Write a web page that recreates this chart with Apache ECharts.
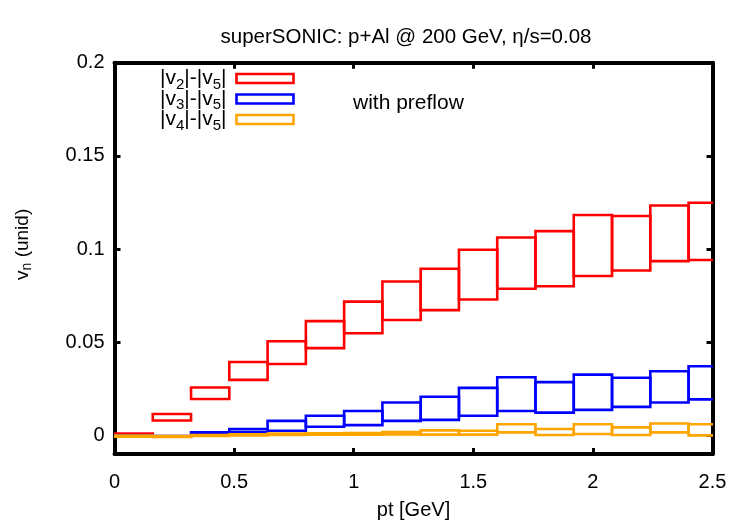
<!DOCTYPE html>
<html>
<head>
<meta charset="utf-8">
<script src="https://cdn.jsdelivr.net/npm/echarts@6/dist/echarts.min.js"></script>
<style>html,body{margin:0;padding:0;background:#fff}#c{width:750px;height:525px}</style>
</head>
<body>
<div id="c"></div>
<script>
// pt bins (GeV): lower and upper edges
var binLo = [0.00,0.16,0.32,0.48,0.64,0.80,0.96,1.12,1.28,1.44,1.60,1.76,1.92,2.08,2.24,2.40];
var binHi = [0.16,0.32,0.48,0.64,0.80,0.96,1.12,1.28,1.44,1.60,1.76,1.92,2.08,2.24,2.40,2.56];
// |v2|-|v5| band
var v2Low  = [0.0004,0.0080,0.0195,0.0298,0.0383,0.0468,0.0548,0.0619,0.0672,0.0729,0.0787,0.0800,0.0855,0.0885,0.0935,0.0941];
var v2High = [0.0010,0.0115,0.0257,0.0394,0.0505,0.0613,0.0718,0.0826,0.0894,0.0996,0.1062,0.1096,0.1183,0.1177,0.1234,0.1248];
// |v3|-|v5| band
var v3Low  = [-0.0004,-0.0006,0.0012,0.0018,0.0025,0.0046,0.0055,0.0078,0.0083,0.0105,0.0131,0.0122,0.0137,0.0153,0.0176,0.0193];
var v3High = [0.0001,-0.0003,0.0016,0.0034,0.0078,0.0105,0.0131,0.0176,0.0207,0.0255,0.0312,0.0286,0.0326,0.0309,0.0344,0.0371];
// |v4|-|v5| band
var v4Low  = [-0.0007,-0.0008,-0.0003,0.0000,0.0002,0.0003,0.0004,0.0005,0.0004,0.0004,0.0016,0.0002,0.0007,0.0002,0.0016,0.0000];
var v4High = [-0.0001,-0.0004,0.0002,0.0006,0.0010,0.0011,0.0012,0.0018,0.0027,0.0025,0.0060,0.0034,0.0060,0.0043,0.0064,0.0060];
var seriesNames = ['v2','v3','v4'];
var seriesColors = ['#ff0000','#0000ff','#ffa500'];
var xTicks = [0,0.5,1,1.5,2,2.5];
var yTicks = [0,0.05,0.1,0.15,0.2];

var FONT = 'Liberation Sans, Arial, Helvetica, sans-serif';

function band(lo, hi) {
  return binLo.map(function(x, i){ return [x, binHi[i], lo[i], hi[i]]; });
}
function makeSeries(name, color, lo, hi) {
  return {
    type: 'custom', name: name, clip: true,
    itemStyle: {color: color},
    encode: {x: [0,1], y: [2,3]},
    data: band(lo, hi),
    renderItem: function(params, api) {
      var p1 = api.coord([api.value(0), api.value(3)]);
      var p2 = api.coord([api.value(1), api.value(2)]);
      return {type: 'rect',
        shape: {x: p1[0], y: p1[1], width: p2[0]-p1[0], height: p2[1]-p1[1]},
        style: {fill: 'none', stroke: color, lineWidth: 2.6}};
    }
  };
}
var legendRich = {
  t: {fontSize: 21, fontFamily: FONT, color: '#000', lineHeight: 20},
  s: {fontSize: 15, fontFamily: FONT, color: '#000', lineHeight: 8, padding: [12,0,0,0]}
};
var legendLabels = {v2: '{t||v}{s|2}{t||-|v}{s|5}{t||}', v3: '{t||v}{s|3}{t||-|v}{s|5}{t||}', v4: '{t||v}{s|4}{t||-|v}{s|5}{t||}'};

function tickFmt(v) {
  for (var i=0;i<yTicks.length;i++){ if (Math.abs(yTicks[i]-v)<1e-9) return String(yTicks[i]); }
  return String(v);
}
var axisLineStyle = {show: true, onZero: false, lineStyle: {color: '#000', width: 4}};
var tickStyle = {color: '#000', width: 3};

var chart = echarts.init(document.getElementById('c'), null, {renderer: 'canvas'});
chart.setOption({
  animation: false,
  backgroundColor: '#fff',
  title: {text: 'superSONIC: p+Al @ 200 GeV, η/s=0.08', left: 401, textAlign: 'center', top: 22,
    textStyle: {fontSize: 20.5, fontWeight: 'normal', color: '#000', fontFamily: FONT}},
  grid: {left: 114.5, right: 37.5, top: 62.7, bottom: 68},
  legend: {
    orient: 'vertical', left: 160, top: 65, align: 'right', padding: 0,
    itemWidth: 57, itemHeight: 9, itemGap: -6.5, icon: 'rect',
    data: seriesNames.map(function(n, i){
      return {name: n, itemStyle: {color: 'rgba(255,255,255,0)', borderColor: seriesColors[i], borderWidth: 2.6}};
    }),
    formatter: function(n){ return legendLabels[n]; },
    textStyle: {rich: legendRich, padding: [0,5,0,0]}
  },
  graphic: [{type: 'text', left: 353, top: 93,
    style: {text: 'with preflow', fontSize: 21, fontFamily: FONT, fill: '#000'}}],
  xAxis: [
    {type: 'value', min: 0, max: 2.5, interval: 0.5, position: 'bottom',
      name: 'pt [GeV]', nameLocation: 'middle', nameGap: 46,
      nameTextStyle: {fontSize: 20, color: '#000', fontFamily: FONT},
      axisLine: axisLineStyle, splitLine: {show: false},
      axisTick: {show: true, inside: true, length: 6, lineStyle: tickStyle},
      axisLabel: {fontSize: 20, color: '#000', fontFamily: FONT, margin: 18,
        formatter: function(v){ return String(v); }}},
    {type: 'value', min: 0, max: 2.5, interval: 0.5, position: 'top',
      axisLine: axisLineStyle, splitLine: {show: false},
      axisTick: {show: true, inside: true, length: 6, lineStyle: tickStyle},
      axisLabel: {show: false}}
  ],
  yAxis: [
    {type: 'value', min: -0.01, max: 0.2, position: 'left',
      name: '{a|v}{b|n}{a| (unid)}', nameLocation: 'middle', nameGap: 82, nameRotate: 90,
      nameTextStyle: {padding: [0,0,0,28], rich: {
        a: {fontSize: 19, color: '#000', fontFamily: FONT, lineHeight: 20},
        b: {fontSize: 14, color: '#000', fontFamily: FONT, lineHeight: 8, padding: [10,0,0,0]}}},
      axisLine: axisLineStyle, splitLine: {show: false},
      axisTick: {show: true, inside: true, length: 6, lineStyle: tickStyle, customValues: yTicks},
      axisLabel: {fontSize: 20, color: '#000', fontFamily: FONT, margin: 10, padding: [5,0,0,0],
        customValues: yTicks, formatter: tickFmt}},
    {type: 'value', min: -0.01, max: 0.2, position: 'right',
      axisLine: axisLineStyle, splitLine: {show: false},
      axisTick: {show: true, inside: true, length: 6, lineStyle: tickStyle, customValues: yTicks},
      axisLabel: {show: false}}
  ],
  series: [
    makeSeries('v2', seriesColors[0], v2Low, v2High),
    makeSeries('v3', seriesColors[1], v3Low, v3High),
    makeSeries('v4', seriesColors[2], v4Low, v4High)
  ]
});
</script>
</body>
</html>
